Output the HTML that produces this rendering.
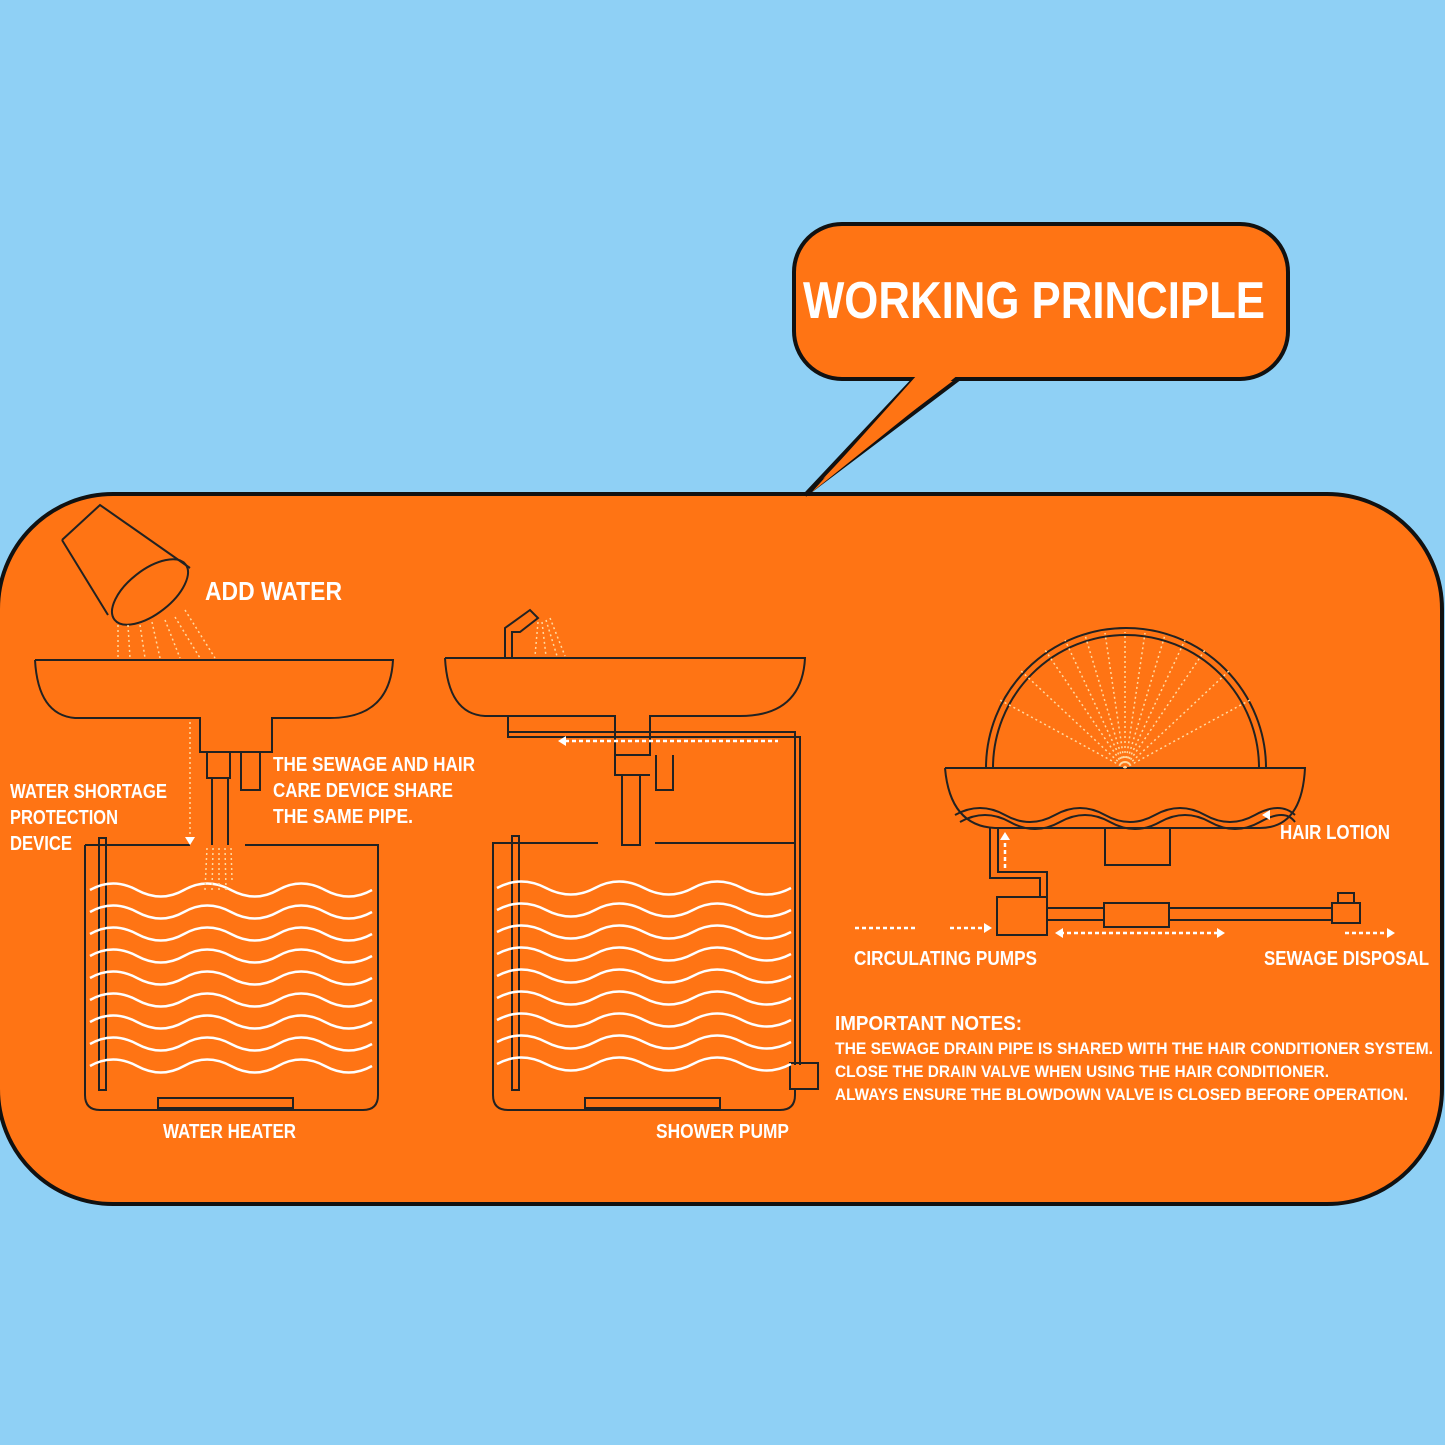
<!DOCTYPE html>
<html><head><meta charset="utf-8"><style>html,body{margin:0;padding:0;background:#8fd0f5}svg{display:block}text{font-family:"Liberation Sans",sans-serif;font-weight:bold;fill:#fff}</style></head><body>
<svg width="1445" height="1445" viewBox="0 0 1445 1445" xmlns="http://www.w3.org/2000/svg">
<defs>
<path id="w" d="M0,0 q23,-13 47,0 t47,0 t47,0 t47,0 t47,0 t47,0" fill="none" stroke="#fff" stroke-width="2.5"/>
<path id="w2" d="M0,0 q24,-13 49,0 t49,0 t49,0 t49,0 t49,0 t49,0" fill="none" stroke="#fff" stroke-width="2.5"/>
</defs>
<rect width="1445" height="1445" fill="#8fd0f5"/>
<rect x="-2" y="494" width="1444" height="710" rx="115" fill="#ff7414" stroke="#111" stroke-width="4"/>
<path d="M915,378 L960,378 L805,495 Z" fill="#ff7414" stroke="#111" stroke-width="4"/>
<rect x="794" y="224" width="494" height="155" rx="48" fill="#ff7414" stroke="#111" stroke-width="4"/>
<path d="M917,375 L958,375 L812,492" fill="#ff7414"/>
<text x="803" y="318" font-size="52" textLength="462" lengthAdjust="spacingAndGlyphs">WORKING PRINCIPLE</text>

<g fill="none" stroke="#222" stroke-width="2">
<path d="M62,540 L100,505 L190,568 M62,540 L108,615"/>
<ellipse cx="150" cy="592" rx="45" ry="22" transform="rotate(-38 150 592)"/>
<path d="M35,660 L393,660 Q390,718 330,718 L272,718 L272,752 L200,752 L200,718 L75,718 Q38,715 35,660"/>
<path d="M207,752 L207,778 L230,778 L230,752 M212,778 L212,845 M228,778 L228,845 M241,752 L241,790 L260,790 L260,752"/>
<path d="M85,845 L190,845 M245,845 L378,845 L378,1095 Q378,1110 363,1110 L100,1110 Q85,1110 85,1095 L85,845"/>
<rect x="158" y="1098" width="135" height="10"/>
<rect x="99" y="838" width="7" height="252"/>
<path d="M445,658 L805,658 Q802,716 740,716 L650,716 L650,755 L615,755 L615,716 L485,716 Q448,714 445,658"/>
<path d="M622,775 L622,845 L640,845 L640,775 M615,755 L615,775 L650,775 M656,755 L656,790 L673,790 L673,755"/>
<path d="M505,658 L505,628 L530,610 L538,618 L520,632 L512,632 L512,658"/>
<path d="M508,716 L508,732 L795,732 L795,1065 M508,716 L508,737 L800,737 L800,1065"/>
<path d="M598,843 L493,843 L493,1095 Q493,1110 508,1110 L780,1110 Q795,1110 795,1095 L795,1090 M655,843 L795,843"/>
<rect x="790" y="1063" width="28" height="26"/>
<rect x="585" y="1098" width="135" height="10"/>
<rect x="512" y="836" width="7" height="254"/>
<path d="M986,768 A140,140 0 0 1 1266,768"/>
<path d="M993,768 A133,133 0 0 1 1259,768"/>
<path d="M945,768 L1305,768 Q1302,828 1260,828 L995,828 Q950,826 945,768"/>
<path d="M955,815 q25,-14 50,0 t50,0 t50,0 t50,0 t50,0 t50,0 t40,0"/>
<path d="M960,822 q25,-14 50,0 t50,0 t50,0 t50,0 t50,0 t50,0 t35,0"/>
<rect x="1105" y="828" width="65" height="37"/>
<path d="M990,828 L990,878 L1040,878 L1040,898 M998,828 L998,872 L1047,872 L1047,898"/>
<rect x="997" y="897" width="50" height="38"/>
<path d="M1047,908 L1104,908 M1047,920 L1104,920 M1169,908 L1332,908 M1169,920 L1332,920"/>
<rect x="1104" y="903" width="65" height="24"/>
<rect x="1332" y="903" width="28" height="20"/>
<rect x="1338" y="893" width="16" height="10"/>
</g>
<g>
<use href="#w" x="90" y="890"/><use href="#w" x="90" y="912"/><use href="#w" x="90" y="934"/><use href="#w" x="90" y="956"/><use href="#w" x="90" y="978"/><use href="#w" x="90" y="1000"/><use href="#w" x="90" y="1022"/><use href="#w" x="90" y="1044"/><use href="#w" x="90" y="1066"/>
<use href="#w2" x="497" y="888"/><use href="#w2" x="497" y="910"/><use href="#w2" x="497" y="932"/><use href="#w2" x="497" y="954"/><use href="#w2" x="497" y="976"/><use href="#w2" x="497" y="998"/><use href="#w2" x="497" y="1020"/><use href="#w2" x="497" y="1042"/><use href="#w2" x="497" y="1064"/>
</g>
<g stroke="#ffd9a0" stroke-width="1.5" stroke-dasharray="2 3" fill="none">
<path d="M118,625 L118,658 M128,625 L130,658 M140,625 L145,658 M152,622 L160,658 M165,620 L180,658 M175,617 L200,658 M185,610 L215,658"/>
<path d="M538,622 L535,656 M542,622 L546,656 M546,620 L557,656 M550,618 L565,656"/>
<path d="M207,848 L205,890 M213,848 L212,890 M219,848 L219,890 M225,848 L226,890 M231,848 L232,880"/>
<path d="M190,722 L190,838"/>
<path d="M1125,768 L1000,700 M1125,768 L1020,670 M1125,768 L1045,650 M1125,768 L1065,640 M1125,768 L1085,635 M1125,768 L1105,633 M1125,768 L1125,632 M1125,768 L1145,633 M1125,768 L1165,635 M1125,768 L1185,640 M1125,768 L1205,650 M1125,768 L1230,670 M1125,768 L1250,700"/>
</g>
<g stroke="#fff" stroke-width="2.5" stroke-dasharray="4 3" fill="none">
<path d="M565,741 L778,741"/>
<path d="M1005,868 L1005,838"/>
<path d="M855,928 L915,928 M950,928 L985,928"/>
<path d="M1060,933 L1220,933"/>
<path d="M1345,933 L1390,933"/>
</g>
<g fill="#fff">
<path d="M558,741 l8,-5 l0,10 z"/><path d="M1005,832 l-5,8 l10,0 z"/><path d="M992,928 l-8,-5 l0,10z"/><path d="M1055,933 l8,-5 l0,10z"/><path d="M1225,933 l-8,-5 l0,10z"/><path d="M1395,933 l-8,-5 l0,10z"/><path d="M1262,815 l8,-5 l0,10z"/><path d="M190,845 l-5,-8 l10,0z"/>
</g>
<text x="205" y="600" font-size="26" textLength="137" lengthAdjust="spacingAndGlyphs">ADD WATER</text>
<g font-size="20">
<text x="273" y="771" textLength="202" lengthAdjust="spacingAndGlyphs">THE SEWAGE AND HAIR</text>
<text x="273" y="797" textLength="180" lengthAdjust="spacingAndGlyphs">CARE DEVICE SHARE</text>
<text x="273" y="823" textLength="140" lengthAdjust="spacingAndGlyphs">THE SAME PIPE.</text>
<text x="10" y="798" textLength="157" lengthAdjust="spacingAndGlyphs">WATER SHORTAGE</text>
<text x="10" y="824" textLength="108" lengthAdjust="spacingAndGlyphs">PROTECTION</text>
<text x="10" y="850" textLength="62" lengthAdjust="spacingAndGlyphs">DEVICE</text>
<text x="163" y="1138" textLength="133" lengthAdjust="spacingAndGlyphs">WATER HEATER</text>
<text x="656" y="1138" textLength="133" lengthAdjust="spacingAndGlyphs">SHOWER PUMP</text>
<text x="1280" y="839" textLength="110" lengthAdjust="spacingAndGlyphs">HAIR LOTION</text>
<text x="854" y="965" textLength="183" lengthAdjust="spacingAndGlyphs">CIRCULATING PUMPS</text>
<text x="1264" y="965" textLength="165" lengthAdjust="spacingAndGlyphs">SEWAGE DISPOSAL</text>
<text x="835" y="1030" textLength="187" lengthAdjust="spacingAndGlyphs">IMPORTANT NOTES:</text>
</g>
<g font-size="17">
<text x="835" y="1054" textLength="598" lengthAdjust="spacingAndGlyphs">THE SEWAGE DRAIN PIPE IS SHARED WITH THE HAIR CONDITIONER SYSTEM.</text>
<text x="835" y="1077" textLength="494" lengthAdjust="spacingAndGlyphs">CLOSE THE DRAIN VALVE WHEN USING THE HAIR CONDITIONER.</text>
<text x="835" y="1100" textLength="573" lengthAdjust="spacingAndGlyphs">ALWAYS ENSURE THE BLOWDOWN VALVE IS CLOSED BEFORE OPERATION.</text>
</g>
</svg>
</body></html>
